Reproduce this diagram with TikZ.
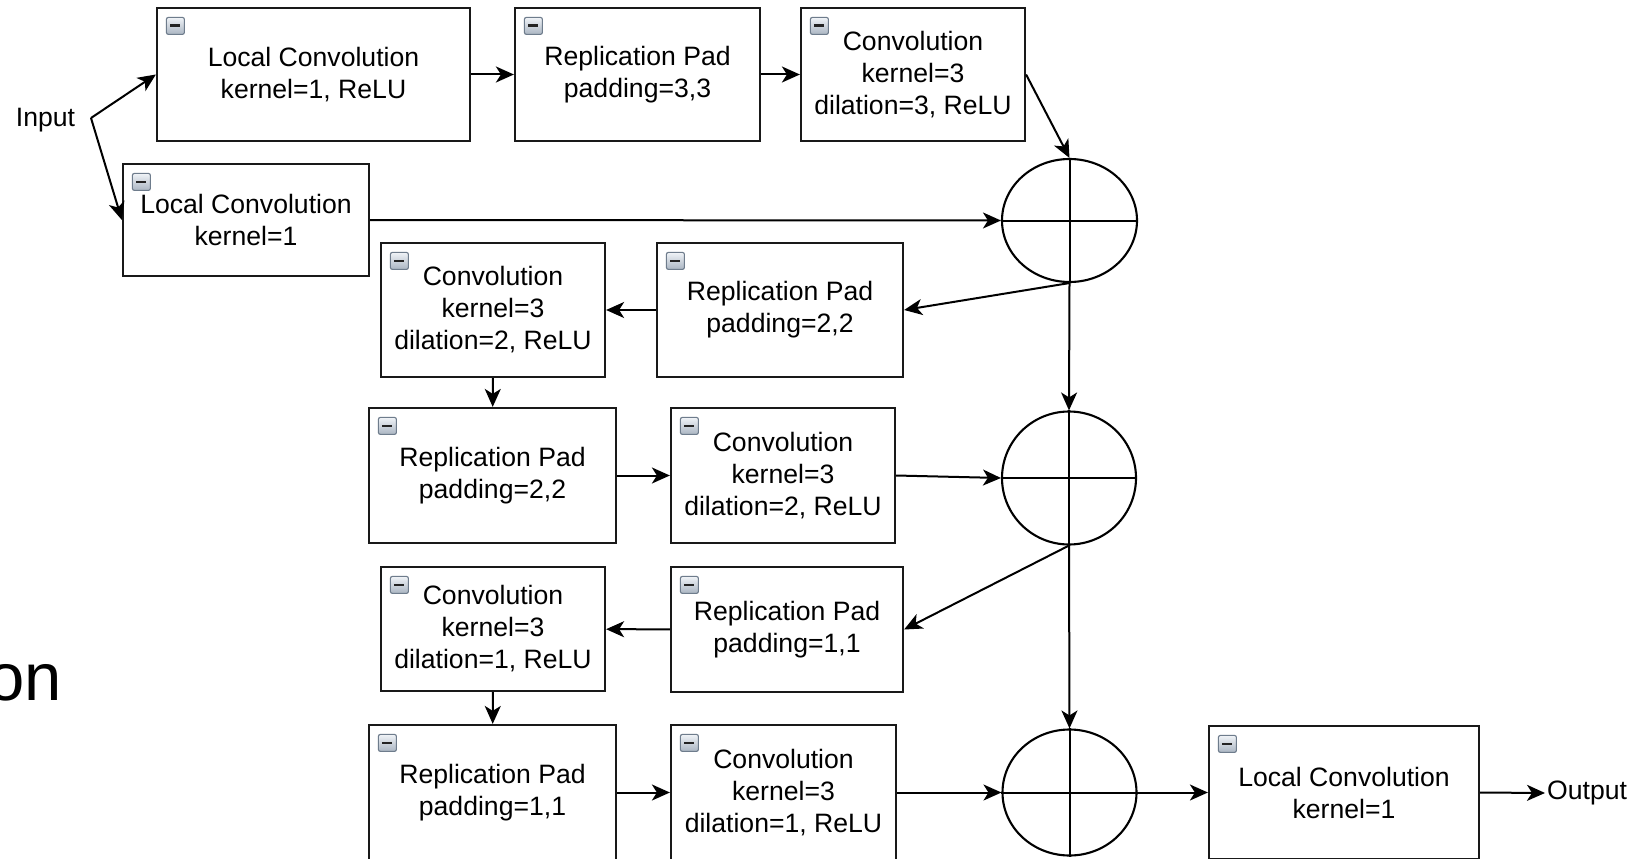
\documentclass[tikz,border=0pt]{standalone}
\usepackage{fontspec}
\setmainfont{Liberation Sans}
\usetikzlibrary{arrows.meta,shapes.geometric}
\definecolor{iconTop}{RGB}{240,243,247}
\definecolor{iconBot}{RGB}{170,181,194}
\definecolor{iconBorder}{RGB}{110,124,140}
\definecolor{iconBar}{RGB}{35,35,35}
\newcommand\boxicon[1]{%
  \path[iconbox] ([shift={(10.5pt,-10.5pt)}]#1.north west) rectangle ++(18pt,-17pt);
  \draw[iconbar] ([shift={(14.5pt,-19pt)}]#1.north west) -- ++(10pt,0pt);
}
\begin{document}
\begin{tikzpicture}[x=1pt,y=-1pt,
  blk/.style={draw=black!90,line width=2.2pt,fill=white,inner sep=0pt,align=center,font=\fontsize{26.6}{32}\selectfont},
  lbl/.style={font=\fontsize{26.6}{32}\selectfont,inner sep=2pt},
  sumnode/.style={draw=black,line width=2.1pt,ellipse,inner sep=0pt},
  arr/.style={line width=2pt,-{Stealth[length=18pt,width=16pt,inset=5pt]}},
  ln/.style={line width=2pt},
  iconbox/.style={draw=iconBorder,line width=1.1pt,rounded corners=2pt,top color=iconTop,bottom color=iconBot},
  iconbar/.style={line width=2.8pt,draw=iconBar}
]
\useasboundingbox (0,0) rectangle (1641,859);
\clip (0,0) rectangle (1641,859);
\fill[white] (0,0) rectangle (1641,859);

% left cut-off text
\node[font=\fontsize{67}{80}\selectfont,anchor=base east,inner sep=0pt] (on) at (62,700) {on};

% input
\node[lbl] (inp) at (45.5,120) {Input};
\coordinate (fork) at (91,118);

% top row
\node[blk,minimum width=313pt,minimum height=133pt] (lc1) at (313.5,74.5) {Local Convolution\\kernel=1, ReLU};
\node[blk,minimum width=245pt,minimum height=133pt] (rp33) at (637.5,74.5) {Replication Pad\\padding=3,3};
\node[blk,minimum width=224pt,minimum height=133pt] (cv33) at (913,74.5) {Convolution\\kernel=3\\dilation=3, ReLU};
\node[blk,minimum width=246pt,minimum height=112pt] (lc2) at (246,220) {Local Convolution\\kernel=1};

% row 2
\node[blk,minimum width=224pt,minimum height=134pt] (cv2a) at (493,310) {Convolution\\kernel=3\\dilation=2, ReLU};
\node[blk,minimum width=246pt,minimum height=134pt] (rp2a) at (780,310) {Replication Pad\\padding=2,2};
% row 3
\node[blk,minimum width=247pt,minimum height=135pt] (rp2b) at (492.5,475.5) {Replication Pad\\padding=2,2};
\node[blk,minimum width=224pt,minimum height=135pt] (cv2b) at (783,475.5) {Convolution\\kernel=3\\dilation=2, ReLU};
% row 4
\node[blk,minimum width=224pt,minimum height=124pt] (cv1a) at (493,629) {Convolution\\kernel=3\\dilation=1, ReLU};
\node[blk,minimum width=232pt,minimum height=125pt] (rp1a) at (787,629.5) {Replication Pad\\padding=1,1};
% row 5
\node[blk,minimum width=247pt,minimum height=135pt] (rp1b) at (492.5,792.5) {Replication Pad\\padding=1,1};
\node[blk,minimum width=225pt,minimum height=135pt] (cv1b) at (783.5,792.5) {Convolution\\kernel=3\\dilation=1, ReLU};
\node[blk,minimum width=270pt,minimum height=133pt] (lc3) at (1344,792.5) {Local Convolution\\kernel=1};

% sums
\node[sumnode,minimum width=135pt,minimum height=123pt] (c1) at (1069.5,220.5) {};
\node[sumnode,minimum width=134pt,minimum height=133pt] (c2) at (1069,478) {};
\node[sumnode,minimum width=134pt,minimum height=126pt] (c3) at (1069.5,792.5) {};
\foreach \c in {c1,c2,c3}{
  \draw[ln] (\c.north) -- (\c.south);
  \draw[ln] (\c.west) -- (\c.east);
}

% output
\node[lbl,anchor=west] (out) at (1545,793) {Output};

% icons
\foreach \b in {lc1,rp33,cv33,lc2,cv2a,rp2a,rp2b,cv2b,cv1a,rp1a,rp1b,cv1b,lc3}{
  \boxicon{\b}
}

% connectors
\draw[arr] (fork) -- (lc1.west);
\draw[arr] (fork) -- (lc2.west);
\draw[arr] (lc1) -- (rp33);
\draw[arr] (rp33) -- (cv33);
\draw[arr] (cv33.east) -- (c1.north);
\draw[arr] (lc2.east) -- (c1.west);
\draw[arr] (c1.south) -- (rp2a.east);
\draw[arr] (c1.south) -- (c2.north);
\draw[arr] (rp2a) -- (cv2a);
\draw[arr] (cv2a) -- (rp2b);
\draw[arr] (rp2b) -- (cv2b);
\draw[arr] (cv2b.east) -- (c2.west);
\draw[arr] (c2.south) -- (rp1a.east);
\draw[arr] (c2.south) -- (c3.north);
\draw[arr] (rp1a) -- (cv1a);
\draw[arr] (cv1a) -- (rp1b);
\draw[arr] (rp1b) -- (cv1b);
\draw[arr] (cv1b.east) -- (c3.west);
\draw[arr] (c3.east) -- (lc3.west);
\draw[arr] (lc3.east) -- (out.west);
\end{tikzpicture}
\end{document}
